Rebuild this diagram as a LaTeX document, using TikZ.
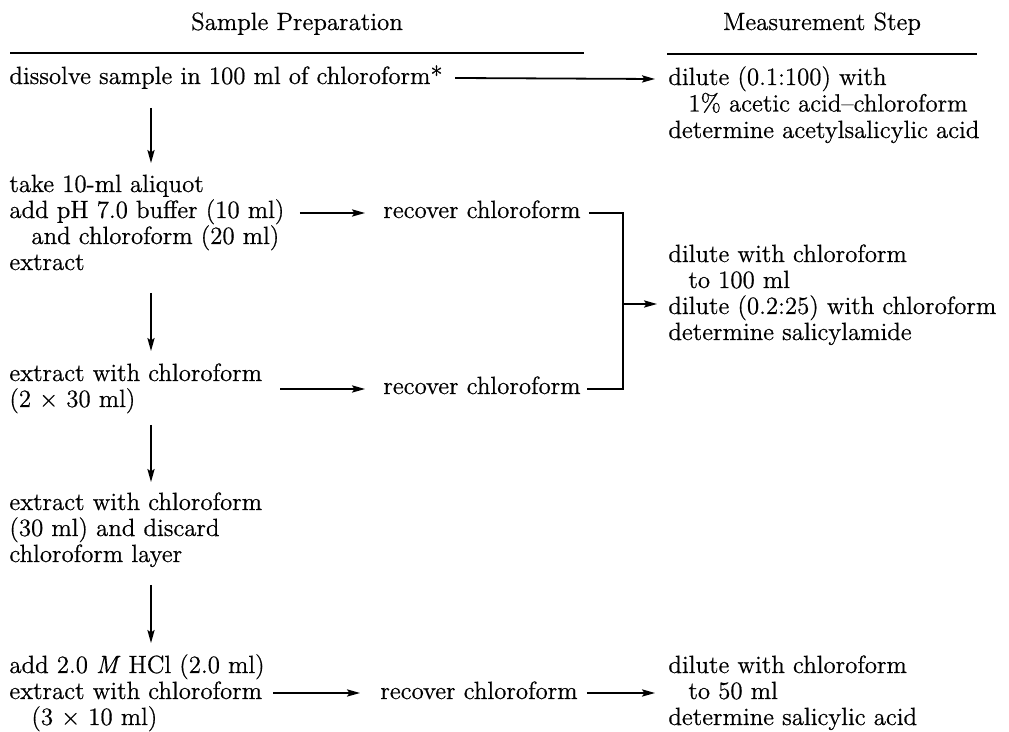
\documentclass[tikz,border=0pt]{standalone}
\usepackage{fontspec}
\newfontfamily\bodyfont{Latin Modern Roman}[Ligatures=TeX,FakeBold=0.6]
\usetikzlibrary{arrows.meta,calc}
\begin{document}
\begin{tikzpicture}[x=0.5pt,y=-0.5pt,
  txt/.style={anchor=base west,inner sep=0pt,font=\bodyfont\fontsize{12.45pt}{13.25pt}\selectfont},
  head/.style={txt,anchor=base},
  rule/.style={line width=1.2pt},
  arr/.style={line width=0.9pt,-{Stealth[length=6.5pt,width=3.6pt,inset=1.2pt]}},
  conn/.style={line width=0.9pt}]
\useasboundingbox (0,0) rectangle (1009,732);
% headers
\node[head] (hL) at (297,30) {Sample Preparation};
\node[head] (hR) at (822,30) {Measurement Step};
\coordinate (rL1) at (10,53); \coordinate (rL2) at (584,53);
\coordinate (rR1) at (667,54); \coordinate (rR2) at (977,54);
\draw[rule] (rL1) -- (rL2);
\draw[rule] (rR1) -- (rR2);
% row 1
\node[txt] (b1) at (9,84) {dissolve sample in 100 ml of chloroform*};
\node[txt] (m1a) at (668,85) {dilute (0.1:100) with};
\node[txt] (m1b) at (688,111.5) {1\% acetic acid–chloroform};
\node[txt] (m1c) at (668,138) {determine acetylsalicylic acid};
\draw[arr] ([shift={(12,-6)}]b1.base east) -- ([shift={(-13,-6)}]m1a.base west);
% vertical 1
\coordinate (v1a) at (151,108); \coordinate (v1b) at (151,163);
\draw[arr] (v1a) -- (v1b);
% block 2
\node[txt] (b2a) at (9,192) {take 10-ml aliquot};
\node[txt] (b2b) at (9,218) {add pH 7.0 buffer (10 ml)};
\node[txt] (b2c) at (31,244) {and chloroform (20 ml)};
\node[txt] (b2d) at (9,270) {extract};
\node[txt] (r1) at (383,218) {recover chloroform};
\draw[arr] ([shift={(15,-5)}]b2b.base east) -- ([shift={(-18,-5)}]r1.base west);
% vertical 2
\coordinate (v2a) at (151,293); \coordinate (v2b) at (151,351);
\draw[arr] (v2a) -- (v2b);
% block 3
\node[txt] (b3a) at (9,381) {extract with chloroform};
\node[txt] (b3b) at (9,407) {(2 × 30 ml)};
\node[txt] (r2) at (383,394) {recover chloroform};
\draw[arr] ([shift={(18,8)}]b3a.base east) -- ([shift={(-18,-5)}]r2.base west);
% right block 2
\node[txt] (m2a) at (668,262) {dilute with chloroform};
\node[txt] (m2b) at (688,288) {to 100 ml};
\node[txt] (m2c) at (668,314) {dilute (0.2:25) with chloroform};
\node[txt] (m2d) at (668,340) {determine salicylamide};
\coordinate (brk) at (623,304);
\draw[conn] ([shift={(8,-5)}]r1.base east) -| (brk) |- ([shift={(6,-5)}]r2.base east);
\draw[arr] (brk) -- ([shift={(-11,-10)}]m2c.base west);
% vertical 3
\coordinate (v3a) at (151,425); \coordinate (v3b) at (151,482);
\draw[arr] (v3a) -- (v3b);
% block 4
\node[txt] (b4a) at (9,510) {extract with chloroform};
\node[txt] (b4b) at (9,536) {(30 ml) and discard};
\node[txt] (b4c) at (9,562) {chloroform layer};
% vertical 4
\coordinate (v4a) at (151,585); \coordinate (v4b) at (151,643);
\draw[arr] (v4a) -- (v4b);
% block 5
\node[txt] (b5a) at (9,673) {add 2.0 \textit{M} HCl (2.0 ml)};
\node[txt] (b5b) at (9,699) {extract with chloroform};
\node[txt] (b5c) at (31,725) {(3 × 10 ml)};
\node[txt] (r3) at (380,699) {recover chloroform};
\draw[arr] ([shift={(11,-6)}]b5b.base east) -- ([shift={(-20,-6)}]r3.base west);
\node[txt] (m3a) at (668,673) {dilute with chloroform};
\node[txt] (m3b) at (688,699) {to 50 ml};
\node[txt] (m3c) at (668,725) {determine salicylic acid};
\draw[arr] ([shift={(9,-6)}]r3.base east) -- ([shift={(-33,-6)}]m3b.base west);
\end{tikzpicture}
\end{document}
